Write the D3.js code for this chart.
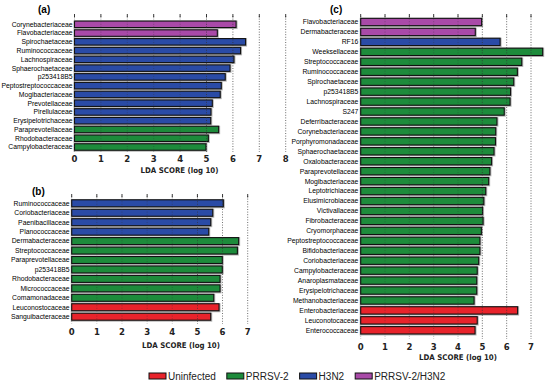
<!DOCTYPE html>
<html>
<head>
<meta charset="utf-8">
<script src="https://cdn.jsdelivr.net/npm/d3@7"></script>
<style>
  body { margin: 0; background: #fff; }
  svg { display: block; }
</style>
</head>
<body>
<svg id="chart" width="550" height="383"></svg>
<script>
// groups / legend
const groupKeys = ['Uninfected', 'PRRSV-2', 'H3N2', 'PRRSV-2/H3N2'];
const groupColors = ['#e8232b', '#1d8b3b', '#2a4ba6', '#a94aa8'];

// panel (a)
const aNames = ['Corynebacteriaceae', 'Flavobacteriaceae', 'Spirochaetaceae', 'Ruminococcaceae',
  'Lachnospiraceae', 'Sphaerochaetaceae', 'p253418B5', 'Peptostreptococcaceae', 'Mogibacteriaceae',
  'Prevotellaceae', 'Pirellulaceae', 'Erysipelotrichaceae', 'Paraprevotellaceae', 'Rhodobacteraceae',
  'Campylobacteraceae'];
const aScores = [6.12, 5.41, 6.48, 6.29, 6.04, 5.89, 5.71, 5.56, 5.52, 5.22, 5.17, 5.16, 5.46, 5.07, 4.98];
const aGroups = ['PRRSV-2/H3N2', 'PRRSV-2/H3N2', 'H3N2', 'H3N2', 'H3N2', 'H3N2', 'H3N2', 'H3N2', 'H3N2',
  'H3N2', 'H3N2', 'H3N2', 'PRRSV-2', 'PRRSV-2', 'PRRSV-2'];
const aTicks = [0, 1, 2, 3, 4, 5, 6, 7, 8];

// panel (b)
const bNames = ['Ruminococcaceae', 'Coriobacteriaceae', 'Paenibacillaceae', 'Planococcaceae',
  'Dermabacteraceae', 'Streptococcaceae', 'Paraprevotellaceae', 'p253418B5', 'Rhodobacteraceae',
  'Micrococcaceae', 'Comamonadaceae', 'Leuconostocaceae', 'Sanguibacteraceae'];
const bScores = [6.03, 5.61, 5.53, 5.45, 6.64, 6.59, 5.99, 5.99, 5.90, 5.90, 5.65, 5.86, 5.53];
const bGroups = ['H3N2', 'H3N2', 'H3N2', 'H3N2', 'PRRSV-2', 'PRRSV-2', 'PRRSV-2', 'PRRSV-2', 'PRRSV-2',
  'PRRSV-2', 'PRRSV-2', 'Uninfected', 'Uninfected'];
const bTicks = [0, 1, 2, 3, 4, 5, 6, 7];

// panel (c)
const cNames = ['Flavobacteriaceae', 'Dermabacteraceae', 'RF16', 'Weeksellaceae', 'Streptococcaceae',
  'Ruminococcaceae', 'Spirochaetaceae', 'p253418B5', 'Lachnospiraceae', 'S247', 'Deferribacteraceae',
  'Corynebacteriaceae', 'Porphyromonadaceae', 'Sphaerochaetaceae', 'Oxalobacteraceae',
  'Paraprevotellaceae', 'Mogibacteriaceae', 'Leptotrichiaceae', 'Elusimicrobiaceae', 'Victivallaceae',
  'Fibrobacteraceae', 'Cryomorphaceae', 'Peptostreptococcaceae', 'Bifidobacteriaceae',
  'Coriobacteriaceae', 'Campylobacteraceae', 'Anaroplasmataceae', 'Erysipelotrichaceae',
  'Methanobacteriaceae', 'Enterobacteriaceae', 'Leuconotocaceae', 'Enterococcaceae'];
const cScores = [4.97, 4.71, 5.73, 7.48, 6.62, 6.44, 6.29, 6.16, 6.14, 5.90, 5.60, 5.55, 5.54, 5.48,
  5.38, 5.31, 5.26, 5.14, 5.06, 5.01, 5.03, 4.96, 4.90, 4.90, 4.85, 4.79, 4.77, 4.77, 4.66, 6.45,
  4.79, 4.70];
const cGroups = ['PRRSV-2/H3N2', 'PRRSV-2/H3N2', 'H3N2'].concat(
  cNames.slice(3, 29).map(() => 'PRRSV-2'), ['Uninfected', 'Uninfected', 'Uninfected']);
const cTicks = [0, 1, 2, 3, 4, 5, 6, 7];

const svg = d3.select('#chart');
const color = d3.scaleOrdinal().domain(groupKeys).range(groupColors);

function drawPanel(p) {
  const g = svg.append('g');
  const x = d3.scaleLinear().domain([0, 7]).range(p.xRange);
  const y = d3.scalePoint().domain(p.names).range(p.yRange);
  const barH = y.step() * 0.74;
  const rows = p.names.map((n, i) => ({ name: n, score: p.scores[i], group: p.groups[i] }));

  g.append('text')
    .attr('x', p.titleX).attr('y', p.titleY)
    .attr('font-family', 'Liberation Sans, Arial, sans-serif')
    .attr('font-weight', 'bold').attr('font-size', 10)
    .text(p.title);

  // shadow behind bars
  g.selectAll('.shadow').data(rows).enter().append('rect')
    .attr('x', x(0) - 1)
    .attr('y', d => y(d.name) - barH / 2 - 0.5)
    .attr('width', d => x(d.score) - x(0) + 2.5)
    .attr('height', barH + 2)
    .attr('fill', '#b5b5b5');

  g.selectAll('.bar').data(rows).enter().append('rect')
    .attr('x', x(0))
    .attr('y', d => y(d.name) - barH / 2)
    .attr('width', d => x(d.score) - x(0))
    .attr('height', barH)
    .attr('fill', d => color(d.group))
    .attr('stroke', '#111')
    .attr('stroke-width', 1.1);

  // dotted grid lines + top ticks
  g.selectAll('.grid').data(p.ticks).enter().append('line')
    .attr('x1', d => x(d)).attr('x2', d => x(d))
    .attr('y1', p.gridTop).attr('y2', p.gridBottom)
    .attr('stroke', '#333').attr('stroke-width', 0.8)
    .attr('stroke-dasharray', '1,1.6')
    .attr('opacity', d => d >= 5 ? 0.9 : 0.45);

  g.selectAll('.tick').data(p.ticks).enter().append('line')
    .attr('x1', d => x(d)).attr('x2', d => x(d))
    .attr('y1', p.gridTop - 2).attr('y2', p.gridTop + 1.5)
    .attr('stroke', '#222').attr('stroke-width', 0.9);

  g.selectAll('.name').data(rows).enter().append('text')
    .attr('x', p.labelX)
    .attr('y', d => y(d.name))
    .attr('dy', '0.35em')
    .attr('text-anchor', 'end')
    .attr('font-family', 'Liberation Sans, Arial, sans-serif')
    .attr('font-size', p.labelSize)
    .attr('fill', '#000')
    .text(d => d.name);

  g.selectAll('.tl').data(p.ticks).enter().append('text')
    .attr('x', d => x(d))
    .attr('y', p.tickY)
    .attr('text-anchor', 'middle')
    .attr('font-family', 'DejaVu Sans, sans-serif')
    .attr('font-weight', 'bold')
    .attr('font-size', 8.5)
    .attr('fill', '#222')
    .text(d => d);

  g.append('text')
    .attr('x', p.axisTitleX).attr('y', p.axisTitleY)
    .attr('text-anchor', 'middle')
    .attr('font-family', 'DejaVu Sans Condensed, DejaVu Sans, sans-serif')
    .attr('font-weight', 'bold')
    .attr('font-size', 7.8)
    .attr('fill', '#222')
    .text('LDA SCORE (log 10)');
}

drawPanel({
  title: '(a)', titleX: 38, titleY: 13,
  names: aNames, scores: aScores, groups: aGroups, ticks: aTicks,
  xRange: [74.5, 259.3], yRange: [24.3, 147], labelX: 72.5, labelSize: 6.8,
  gridTop: 16, gridBottom: 152, tickY: 162, axisTitleX: 179.5, axisTitleY: 173
});

drawPanel({
  title: '(b)', titleX: 32, titleY: 195,
  names: bNames, scores: bScores, groups: bGroups, ticks: bTicks,
  xRange: [71.7, 247.7], yRange: [203.3, 316.7], labelX: 69.5, labelSize: 6.8,
  gridTop: 196, gridBottom: 324, tickY: 335, axisTitleX: 181, axisTitleY: 348
});

drawPanel({
  title: '(c)', titleX: 330, titleY: 13,
  names: cNames, scores: cScores, groups: cGroups, ticks: cTicks,
  xRange: [360.7, 531], yRange: [22, 330.3], labelX: 358.3, labelSize: 6.8,
  gridTop: 16, gridBottom: 339, tickY: 349.5, axisTitleX: 458, axisTitleY: 360
});

// legend
const legend = svg.append('g');
let lx = 149;
groupKeys.forEach(k => {
  legend.append('rect')
    .attr('x', lx).attr('y', 373)
    .attr('width', 17).attr('height', 6)
    .attr('fill', color(k)).attr('stroke', '#111').attr('stroke-width', 1);
  const t = legend.append('text')
    .attr('x', lx + 19).attr('y', 380)
    .attr('font-family', 'Liberation Sans, Arial, sans-serif')
    .attr('font-size', 10)
    .attr('fill', '#222')
    .text(k);
  lx += 19 + t.node().getComputedTextLength() + 11;
});
</script>
</body>
</html>
